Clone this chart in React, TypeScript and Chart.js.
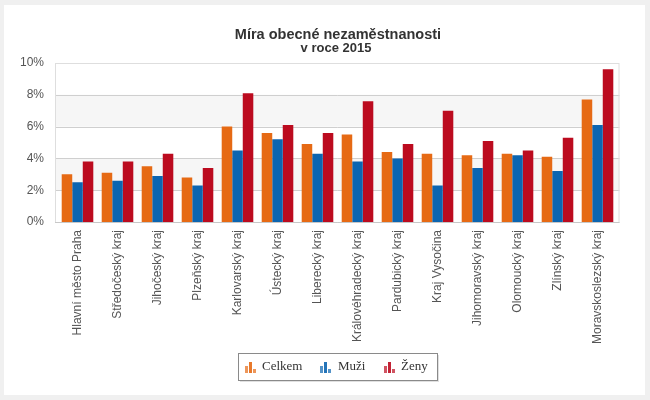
import React, { useEffect, useRef } from "react";
import { Chart, registerables } from "chart.js";

Chart.register(...registerables);

const categories = [
  "Hlavní město Praha",
  "Středočeský kraj",
  "Jihočeský kraj",
  "Plzeňský kraj",
  "Karlovarský kraj",
  "Ústecký kraj",
  "Liberecký kraj",
  "Královéhradecký kraj",
  "Pardubický kraj",
  "Kraj Vysočina",
  "Jihomoravský kraj",
  "Olomoucký kraj",
  "Zlínský kraj",
  "Moravskoslezský kraj",
];

const celkem = [3.0, 3.1, 3.5, 2.8, 6.0, 5.6, 4.9, 5.5, 4.4, 4.3, 4.2, 4.3, 4.1, 7.7];
const muzi = [2.5, 2.6, 2.9, 2.3, 4.5, 5.2, 4.3, 3.8, 4.0, 2.3, 3.4, 4.2, 3.2, 6.1];
const zeny = [3.8, 3.8, 4.3, 3.4, 8.1, 6.1, 5.6, 7.6, 4.9, 7.0, 5.1, 4.5, 5.3, 9.6];

const seriesNames = ["Celkem", "Muži", "Ženy"];
const yTicks = [0, 2, 4, 6, 8, 10];
const titleText = "Míra obecné nezaměstnanosti";
const subtitleText = "v roce 2015";

const COLORS = ["#E66A14", "#0C65B0", "#BC0B1F"];

const SANS = "'Liberation Sans', Arial, sans-serif";
const SERIF = "'Liberation Serif', 'Times New Roman', serif";

export default function App() {
  const ref = useRef<HTMLCanvasElement | null>(null);

  useEffect(() => {
    document.body.style.margin = "0";
    const canvas = ref.current;
    if (!canvas) return;

    const frame = {
      id: "frame",
      beforeDraw(chart: any) {
        const ctx = chart.ctx;
        const y = chart.scales.y;
        const L = 55, R = 619.5;
        ctx.save();
        ctx.fillStyle = "#f0f0f0";
        ctx.fillRect(0, 0, 650, 400);
        ctx.fillStyle = "#ffffff";
        ctx.fillRect(4, 5, 641, 390);
        // alternating bands
        ctx.fillStyle = "#f6f6f6";
        for (const [a, b] of [[2, 4], [6, 8]]) {
          const ya = y.getPixelForValue(a);
          const yb = y.getPixelForValue(b);
          ctx.fillRect(L, yb, R - L, ya - yb);
        }
        // gridlines
        ctx.strokeStyle = "#cfcfcf";
        ctx.lineWidth = 1;
        for (const v of yTicks) {
          if (v === 0 || v === 10) continue;
          const py = Math.round(y.getPixelForValue(v)) + 0.5;
          ctx.beginPath();
          ctx.moveTo(L, py);
          ctx.lineTo(R, py);
          ctx.stroke();
        }
        // border
        const top = Math.round(y.getPixelForValue(10)) + 0.5;
        const bot = Math.round(y.getPixelForValue(0)) + 0.5;
        ctx.strokeStyle = "#dedede";
        ctx.strokeRect(L + 0.5, top, R - L - 1, bot - top);
        ctx.strokeStyle = "#c8c8c8";
        ctx.beginPath();
        ctx.moveTo(L, bot);
        ctx.lineTo(R, bot);
        ctx.stroke();
        ctx.restore();
      },
      afterDraw(chart: any) {
        const ctx = chart.ctx;
        ctx.save();
        // titles
        ctx.fillStyle = "#333333";
        ctx.textAlign = "center";
        ctx.textBaseline = "alphabetic";
        ctx.font = `bold 14.5px ${SANS}`;
        ctx.fillText(titleText, 338, 38.5);
        ctx.font = `bold 13px ${SANS}`;
        ctx.fillText(subtitleText, 336, 52);

        // legend
        const bx = 238, by = 353, bw = 199, bh = 27;
        ctx.fillStyle = "rgba(0,0,0,0.12)";
        ctx.fillRect(bx + 2, by + 2, bw, bh);
        ctx.fillStyle = "#ffffff";
        ctx.fillRect(bx, by, bw, bh);
        ctx.strokeStyle = "#8a8a8a";
        ctx.lineWidth = 1;
        ctx.strokeRect(bx + 0.5, by + 0.5, bw, bh);

        const items = [
          { ix: 245, tx: 262 },
          { ix: 320, tx: 338 },
          { ix: 384, tx: 401 },
        ];
        ctx.font = `13px ${SERIF}`;
        ctx.textAlign = "left";
        ctx.textBaseline = "middle";
        items.forEach((it, i) => {
          const base = 373;
          const col = COLORS[i];
          const hs = [7, 11, 4];
          hs.forEach((h, k) => {
            ctx.globalAlpha = k === 1 ? 0.9 : 0.7;
            ctx.fillStyle = col;
            ctx.fillRect(it.ix + k * 4, base - h, 3, h);
          });
          ctx.globalAlpha = 1;
          ctx.fillStyle = "#333333";
          ctx.fillText(seriesNames[i], it.tx, 367);
        });
        ctx.restore();
      },
    };

    const chart = new Chart(canvas, {
      type: "bar",
      data: {
        labels: categories,
        datasets: [
          { label: seriesNames[0], data: celkem, backgroundColor: COLORS[0] },
          { label: seriesNames[1], data: muzi, backgroundColor: COLORS[1] },
          { label: seriesNames[2], data: zeny, backgroundColor: COLORS[2] },
        ],
      },
      options: {
        responsive: false,
        animation: false,
        layout: { padding: { top: 63, right: 32.5, left: 0, bottom: 0 } },
        datasets: {
          bar: { categoryPercentage: 0.79, barPercentage: 1.0 },
        },
        plugins: {
          legend: { display: false },
          title: { display: false },
          tooltip: { enabled: false },
        },
        scales: {
          x: {
            grid: { display: false, drawTicks: false },
            border: { display: false },
            ticks: {
              autoSkip: false,
              maxRotation: 90,
              minRotation: 90,
              padding: 8,
              color: "#555555",
              font: { family: SANS, size: 12 },
            },
            afterFit(scale: any) {
              scale.height = 178;
            },
          },
          y: {
            min: 0,
            max: 10,
            grid: { display: false, drawTicks: false },
            border: { display: false },
            ticks: {
              stepSize: 2,
              padding: 13.5,
              color: "#555555",
              font: { family: SANS, size: 12 },
              callback: (v: any) => `${v}%`,
            },
            afterFit(scale: any) {
              scale.width = 57.5;
            },
          },
        },
      },
      plugins: [frame],
    });

    return () => chart.destroy();
  }, []);

  return (
    <div style={{ width: 650, height: 400 }}>
      <canvas ref={ref} width={650} height={400} style={{ display: "block" }} />
    </div>
  );
}
